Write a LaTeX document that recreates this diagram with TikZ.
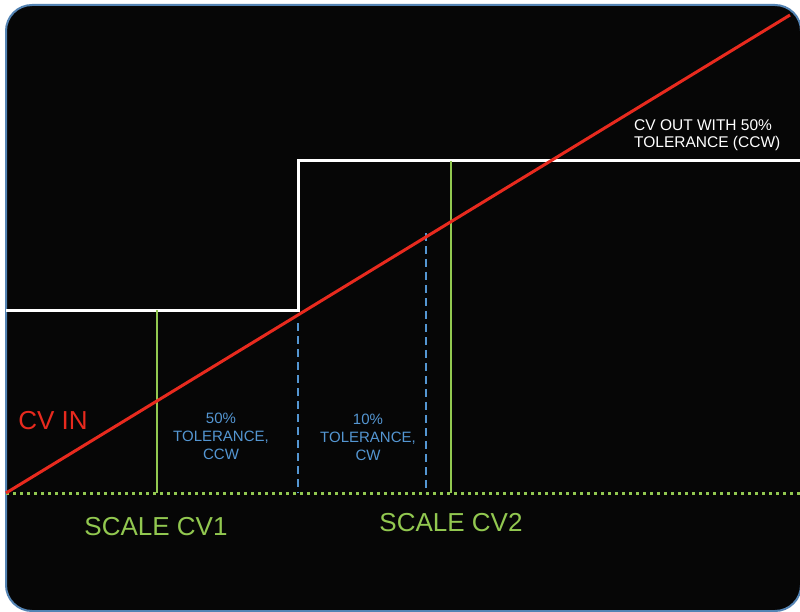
\documentclass[tikz,border=0pt]{standalone}
\usepackage{fontspec}
\setmainfont{Liberation Sans}
\definecolor{bg}{RGB}{6,6,6}
\definecolor{frame}{RGB}{84,132,180}
\definecolor{cvred}{RGB}{232,42,30}
\definecolor{cvgreen}{RGB}{146,200,80}
\definecolor{tolblue}{RGB}{84,150,210}
\begin{document}
\begin{tikzpicture}[x=1pt,y=-1pt,
  redline/.style={cvred,line width=3pt},
  whiteline/.style={white,line width=3pt},
  greenline/.style={cvgreen,line width=2.5pt},
  blueline/.style={tolblue,line width=1.8pt,dash pattern=on 8pt off 5pt},
  dotline/.style={cvgreen,line width=3pt,dash pattern=on 3pt off 4pt},
  bigtxt/.style={font=\fontsize{26}{30}\selectfont,inner sep=0pt},
  tol/.style={tolblue,font=\fontsize{15}{18}\selectfont,align=center,inner sep=0pt},
  outtxt/.style={white,font=\fontsize{15.5}{17.5}\selectfont,align=left,inner sep=0pt,anchor=west}]
\useasboundingbox (0,0) rectangle (800,612);
\fill[white] (0,0) rectangle (800,612);
\draw[frame,fill=bg,line width=2pt,rounded corners=26pt] (6,5) rectangle (801,611);
% coordinates
\coordinate (o) at (6,493);
\coordinate (e) at (800,493);
\coordinate (rtop) at (790,15);
\coordinate (w1) at (6,310);
\coordinate (w2) at (298,310);
\coordinate (w3) at (298,161);
\coordinate (w4) at (800,161);
\coordinate (g1t) at (157,310);
\coordinate (g1b) at (157,493);
\coordinate (g2t) at (451,161);
\coordinate (g2b) at (451,493);
\coordinate (b1t) at (298,323);
\coordinate (b1b) at (298,493);
\coordinate (b2t) at (426,233);
\coordinate (b2b) at (426,493);
% lines
\draw[dotline] (o) -- (e);
\draw[whiteline] (w1) -- (w2) -- (w3) -- (w4);
\draw[greenline] (g1t) -- (g1b);
\draw[greenline] (g2t) -- (g2b);
\draw[blueline] (b1t) -- (b1b);
\draw[blueline] (b2t) -- (b2b);
\draw[redline] (o) -- (rtop);
% texts
\node[bigtxt,cvred] (cvin) at (53,421) {CV IN};
\node[bigtxt,cvgreen] (scv1) at (156,527) {SCALE CV1};
\node[bigtxt,cvgreen] (scv2) at (451,523) {SCALE CV2};
\node[outtxt] (cvout) at (634,135) {CV OUT WITH 50\%\\TOLERANCE (CCW)};
\node[tol] (t50) at (221,436) {50\%\\TOLERANCE,\\CCW};
\node[tol] (t10) at (368,437) {10\%\\TOLERANCE,\\CW};
\end{tikzpicture}
\end{document}
